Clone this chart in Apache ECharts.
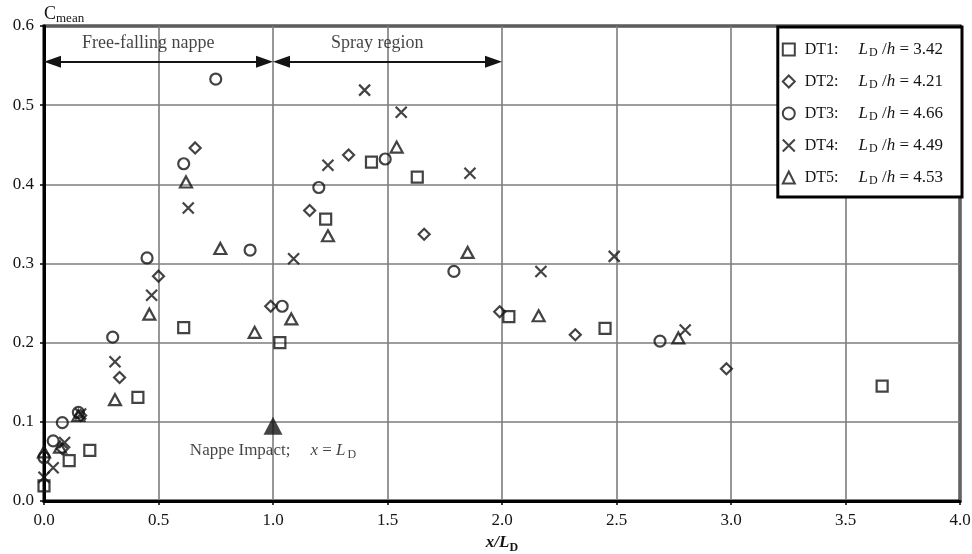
<!DOCTYPE html>
<html>
<head>
<meta charset="utf-8">
<script src="https://cdn.jsdelivr.net/npm/echarts@6/dist/echarts.min.js"></script>
<style>
  html, body { margin: 0; padding: 0; background: #fff; }
  #chart { width: 972px; height: 554px; }
</style>
</head>
<body>
<div id="chart"></div>
<script>
// Mean pressure coefficient along the step, x/L_D, for five drop tests
const dt1X = [0.00, 0.11, 0.20, 0.41, 0.61, 1.03, 1.23, 1.43, 1.63, 2.03, 2.45, 3.66];
const dt1Y = [0.019, 0.051, 0.064, 0.131, 0.219, 0.200, 0.356, 0.428, 0.409, 0.233, 0.218, 0.145];

const dt2X = [0.08, 0.16, 0.33, 0.50, 0.66, 0.99, 1.16, 1.33, 1.66, 1.99, 2.32, 2.98];
const dt2Y = [0.066, 0.108, 0.156, 0.284, 0.446, 0.246, 0.367, 0.437, 0.337, 0.239, 0.210, 0.167];

const dt3X = [0.00, 0.04, 0.08, 0.15, 0.30, 0.45, 0.61, 0.75, 0.90, 1.04, 1.20, 1.49, 1.79, 2.69];
const dt3Y = [0.055, 0.076, 0.099, 0.112, 0.207, 0.307, 0.426, 0.533, 0.317, 0.246, 0.396, 0.432, 0.290, 0.202];

const dt4X = [0.00, 0.04, 0.09, 0.16, 0.31, 0.47, 0.63, 1.09, 1.24, 1.40, 1.56, 1.86, 2.17, 2.49, 2.80];
const dt4Y = [0.030, 0.042, 0.074, 0.110, 0.176, 0.260, 0.370, 0.306, 0.424, 0.519, 0.491, 0.414, 0.290, 0.309, 0.216];

const dt5X = [0.00, 0.07, 0.15, 0.31, 0.46, 0.62, 0.77, 0.92, 1.08, 1.24, 1.54, 1.85, 2.16, 2.77];
const dt5Y = [0.062, 0.068, 0.108, 0.128, 0.236, 0.403, 0.319, 0.213, 0.230, 0.335, 0.447, 0.314, 0.234, 0.206];

const seriesNames = ['DT1', 'DT2', 'DT3', 'DT4', 'DT5'];
const ldOverH = ['3.42', '4.21', '4.66', '4.49', '4.53'];

// Flow regions along the step
const regionNames = ['Free-falling nappe', 'Spray region'];
const regionStart = [0.0, 1.0];
const regionEnd = [1.0, 2.0];
const regionArrowY = 0.555;
const regionLabelX = [0.455, 1.455];
const regionLabelY = 0.578;

// Nappe impact point
const impactX = 1.0;
const impactY = 0.095;

const SERIF = '"Liberation Serif", "DejaVu Serif", serif';
const INK = '#141414';

const GRID = { left: 44, right: 12, top: 26, bottom: 53 };
const X_MIN = 0, X_MAX = 4;
const ARROW_HEAD = [12, 17];
// Arrow heads are centred on their end points; pull the ends in by half a head
// so the tips land exactly on the region limits.
const plotWidth = 972 - GRID.left - GRID.right;
const headInset = (ARROW_HEAD[1] / 2) * (X_MAX - X_MIN) / plotWidth;

const pairs = (xs, ys) => xs.map((x, i) => [x, ys[i]]);

const markerShapes = [
  { symbol: 'rect', size: 11 },
  { symbol: 'diamond', size: [11, 11] },
  { symbol: 'circle', size: 11 },
  { symbol: 'path://M0,0L10,10M10,0L0,10', size: 11 },
  { symbol: 'triangle', size: [12, 11] }
];
const seriesData = [pairs(dt1X, dt1Y), pairs(dt2X, dt2Y), pairs(dt3X, dt3Y), pairs(dt4X, dt4Y), pairs(dt5X, dt5Y)];

const dataSeries = seriesNames.map((name, i) => ({
  name: name,
  type: 'scatter',
  symbol: markerShapes[i].symbol,
  symbolSize: markerShapes[i].size,
  itemStyle: { color: 'rgba(255,255,255,0)', borderColor: INK, borderWidth: 2.2 },
  data: seriesData[i],
  z: 5
}));

const chart = echarts.init(document.getElementById('chart'), null, { renderer: 'canvas' });

chart.setOption({
  animation: false,
  backgroundColor: '#fff',
  grid: Object.assign({
    show: true, borderColor: '#000', borderWidth: 3, backgroundColor: 'transparent',
    containLabel: false, outerBoundsMode: 'none'
  }, GRID),
  xAxis: {
    type: 'value', min: X_MIN, max: X_MAX, interval: 0.5,
    name: '{b|x/L}{s|D}',
    nameLocation: 'middle', nameGap: 31,
    nameTextStyle: {
      rich: {
        b: { fontFamily: SERIF, fontSize: 17, fontWeight: 'bold', fontStyle: 'italic', color: INK },
        s: { fontFamily: SERIF, fontSize: 12, fontWeight: 'bold', color: INK, padding: [10, 0, 0, 0] }
      }
    },
    axisLine: { show: true, lineStyle: { color: '#000', width: 3 } },
    axisTick: { show: true, length: 4, lineStyle: { color: '#000', width: 1.5 } },
    axisLabel: {
      fontFamily: SERIF, fontSize: 17, color: INK, margin: 11,
      formatter: v => v.toFixed(1)
    },
    splitLine: { show: true, lineStyle: { color: '#7d7d7d', width: 1.6 } }
  },
  yAxis: {
    type: 'value', min: 0, max: 0.6, interval: 0.1,
    name: '{c|C}{s|mean}',
    nameLocation: 'end', nameGap: 1,
    nameTextStyle: {
      align: 'left',
      rich: {
        c: { fontFamily: SERIF, fontSize: 18, color: INK },
        s: { fontFamily: SERIF, fontSize: 13, color: INK, padding: [8, 0, 0, 0] }
      }
    },
    axisLine: { show: true, lineStyle: { color: '#000', width: 3 } },
    axisTick: { show: true, length: 4, lineStyle: { color: '#000', width: 1.5 } },
    axisLabel: {
      fontFamily: SERIF, fontSize: 17, color: INK, margin: 10,
      formatter: v => v.toFixed(1)
    },
    splitLine: { show: true, lineStyle: { color: '#7d7d7d', width: 1.6 } }
  },
  legend: {
    data: seriesNames,
    orient: 'vertical',
    right: 10, top: 27,
    backgroundColor: '#fff',
    borderColor: '#000', borderWidth: 3,
    padding: [14, 19, 10, 4],
    itemWidth: 12, itemHeight: 12, itemGap: 14,
    formatter: name => {
      const i = seriesNames.indexOf(name);
      return '{n|' + name + ':}{g| }{i|L}{d|D}{m| /}{i|h}{m| = ' + ldOverH[i] + '}';
    },
    textStyle: {
      color: INK, padding: [0, 0, 0, 5],
      rich: {
        n: { fontFamily: SERIF, fontSize: 16, color: INK, lineHeight: 18 },
        m: { fontFamily: SERIF, fontSize: 17, color: INK, lineHeight: 18 },
        g: { fontFamily: SERIF, fontSize: 16, width: 20 },
        i: { fontFamily: SERIF, fontSize: 17, fontStyle: 'italic', color: INK, lineHeight: 18 },
        d: { fontFamily: SERIF, fontSize: 12, color: INK, padding: [7, 0, 0, 1] }
      }
    }
  },
  series: dataSeries.concat([
    {
      // Region extents shown as double-headed arrows with captions
      name: 'regions',
      type: 'scatter',
      symbolSize: 0,
      silent: true,
      data: regionNames.map((t, i) => ({ value: [regionLabelX[i], regionLabelY], text: t })),
      label: {
        show: true, position: 'inside',
        fontFamily: SERIF, fontSize: 18, color: INK,
        formatter: p => p.data.text
      },
      markLine: {
        silent: true,
        symbol: ['triangle', 'triangle'],
        symbolSize: ARROW_HEAD,
        label: { show: false },
        lineStyle: { color: INK, width: 2, type: 'solid' },
        data: regionStart.map((s, i) => [
          { coord: [s + headInset, regionArrowY] },
          { coord: [regionEnd[i] - headInset, regionArrowY] }
        ])
      },
      z: 6
    },
    {
      name: 'Nappe Impact',
      type: 'scatter',
      symbol: 'triangle',
      symbolSize: [19, 18],
      silent: true,
      itemStyle: { color: INK },
      data: [[impactX, impactY]],
      label: {
        show: true, position: 'bottom', distance: 6,
        formatter: () => '{n|Nappe Impact;}{g| }{i|x}{n| = }{i|L}{d|D}',
        rich: {
          n: { fontFamily: SERIF, fontSize: 17, color: INK },
          g: { width: 20 },
          i: { fontFamily: SERIF, fontSize: 17, fontStyle: 'italic', color: INK },
          d: { fontFamily: SERIF, fontSize: 12, color: INK, padding: [8, 0, 0, 2] }
        }
      },
      z: 6
    }
  ])
});
</script>
</body>
</html>
